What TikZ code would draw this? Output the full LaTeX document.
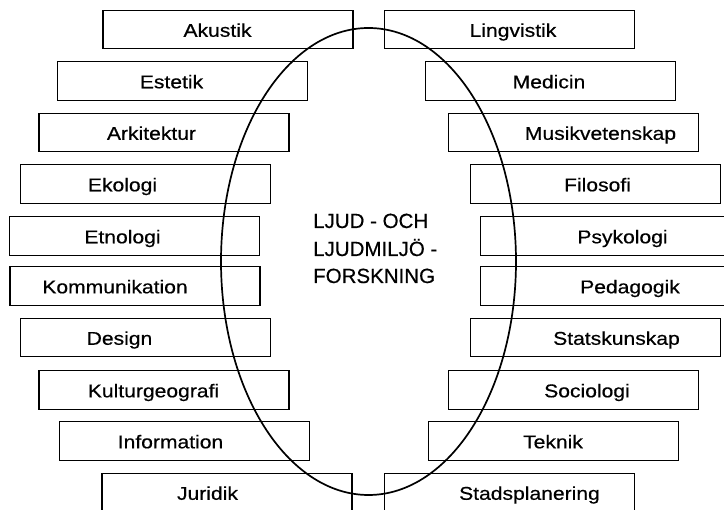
\documentclass[tikz,border=0pt]{standalone}
\usepackage{fontspec}
\setmainfont{Liberation Sans}[FakeBold=0.5]
\newfontfamily\lblfont{Liberation Sans}[FakeStretch=1.14,FakeBold=0.5]
\newfontfamily\ctrfont{Liberation Sans}[FakeBold=0.5]
\usetikzlibrary{shapes.geometric}
\begin{document}
\begin{tikzpicture}[x=1pt,y=-1pt,
  boxst/.style={draw, line width=1.1pt, minimum width=250pt, minimum height=38.5pt, inner sep=0pt, outer sep=0pt},
  lbl/.style={font=\lblfont\fontsize{18.5}{20}\selectfont, anchor=base, inner sep=0pt},
  ctr/.style={font=\ctrfont\fontsize{20.5}{22}\selectfont, anchor=base west, inner sep=0pt},
  oval/.style={draw, ellipse, line width=1.7pt, minimum width=295pt, minimum height=467pt, inner sep=0pt, outer sep=0pt}]
\useasboundingbox (0,0) rectangle (724,510);
\clip (0,0) rectangle (724,510);
% left column boxes
\node[boxst] (b1) at (228,29.5) {};
\node[boxst] (b2) at (182.5,81) {};
\node[boxst] (b3) at (164,132.5) {};
\node[boxst] (b4) at (145.5,184) {};
\node[boxst] (b5) at (134.5,236) {};
\node[boxst] (b6) at (135,286) {};
\node[boxst] (b7) at (145.5,337.5) {};
\node[boxst] (b8) at (164,390) {};
\node[boxst] (b9) at (184.5,441) {};
\node[boxst] (b10) at (227,492.5) {};
% right column boxes
\node[boxst] (c1) at (509.5,29.5) {};
\node[boxst] (c2) at (550.5,81) {};
\node[boxst] (c3) at (573.5,132.5) {};
\node[boxst] (c4) at (595.5,184) {};
\node[boxst] (c5) at (605.5,236) {};
\node[boxst] (c6) at (605.5,286) {};
\node[boxst] (c7) at (595.5,337.5) {};
\node[boxst] (c8) at (573.5,390) {};
\node[boxst] (c9) at (553.5,441) {};
\node[boxst] (c10) at (509.5,492.5) {};
% left labels
\node[lbl] (t1) at (217.5,36.8) {Akustik};
\node[lbl] (t2) at (171.5,88.3) {Estetik};
\node[lbl] (t3) at (151.5,139.8) {Arkitektur};
\node[lbl] (t4) at (122.5,191.3) {Ekologi};
\node[lbl] (t5) at (122.5,243.3) {Etnologi};
\node[lbl] (t6) at (115,293.3) {Kommunikation};
\node[lbl] (t7) at (119.5,344.8) {Design};
\node[lbl] (t8) at (153.5,397.3) {Kulturgeografi};
\node[lbl] (t9) at (170.5,448.3) {Information};
\node[lbl] (t10) at (207.5,499.8) {Juridik};
% right labels
\node[lbl] (u1) at (513,36.8) {Lingvistik};
\node[lbl] (u2) at (549,88.3) {Medicin};
\node[lbl] (u3) at (600.5,139.8) {Musikvetenskap};
\node[lbl] (u4) at (597.5,191.3) {Filosofi};
\node[lbl] (u5) at (622.5,243.3) {Psykologi};
\node[lbl] (u6) at (630,293.3) {Pedagogik};
\node[lbl] (u7) at (616.5,344.8) {Statskunskap};
\node[lbl] (u8) at (587,397.3) {Sociologi};
\node[lbl] (u9) at (553,448.3) {Teknik};
\node[lbl] (u10) at (529.5,499.8) {Stadsplanering};
% central oval and title
\node[oval] (ov) at (368.5,261.5) {};
\node[ctr] (m1) at (313,228) {LJUD - OCH};
\node[ctr] (m2) at (313,256) {LJUDMILJÖ -};
\node[ctr] (m3) at (313,283) {FORSKNING};
\end{tikzpicture}
\end{document}
